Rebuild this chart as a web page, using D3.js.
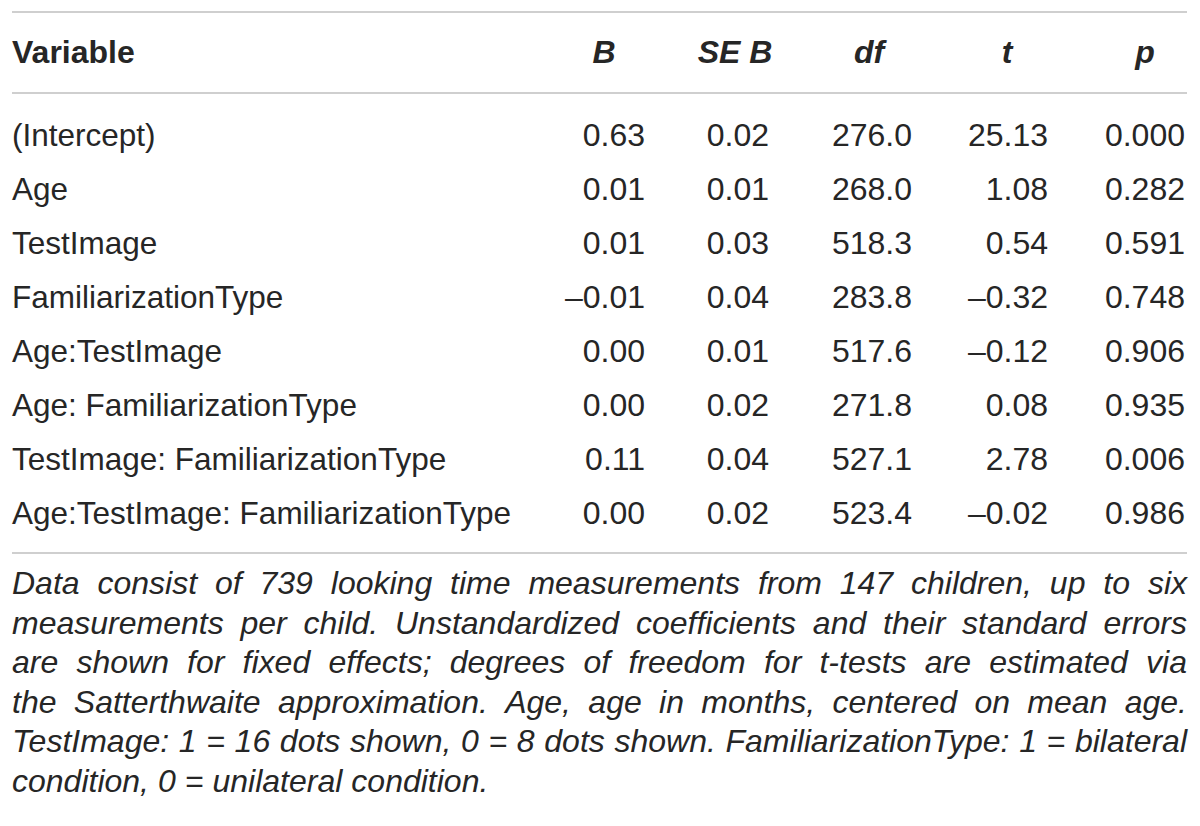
<!DOCTYPE html>
<html>
<head>
<meta charset="utf-8">
<script src="https://cdn.jsdelivr.net/npm/d3@7"></script>
<style>
  html, body { margin: 0; padding: 0; background: #fff; }
  svg text { font-family: "Liberation Sans", Arial, sans-serif; fill: #262626; }
</style>
</head>
<body>
<svg id="chart" width="1200" height="826"></svg>
<script>
// table contents
var headers = ['B', 'SE B', 'df', 't', 'p'];
var variables = ['(Intercept)', 'Age', 'TestImage', 'FamiliarizationType', 'Age:TestImage',
    'Age: FamiliarizationType', 'TestImage: FamiliarizationType', 'Age:TestImage: FamiliarizationType'];
var B    = ['0.63', '0.01', '0.01', '\u20130.01', '0.00', '0.00', '0.11', '0.00'];
var SEB  = ['0.02', '0.01', '0.03', '0.04', '0.01', '0.02', '0.04', '0.02'];
var df   = ['276.0', '268.0', '518.3', '283.8', '517.6', '271.8', '527.1', '523.4'];
var tval = ['25.13', '1.08', '0.54', '\u20130.32', '\u20130.12', '0.08', '2.78', '\u20130.02'];
var pval = ['0.000', '0.282', '0.591', '0.748', '0.906', '0.935', '0.006', '0.986'];
var footnote = [
    'Data consist of 739 looking time measurements from 147 children, up to six',
    'measurements per child. Unstandardized coefficients and their standard errors',
    'are shown for fixed effects; degrees of freedom for t-tests are estimated via',
    'the Satterthwaite approximation. Age, age in months, centered on mean age.',
    'TestImage: 1 = 16 dots shown, 0 = 8 dots shown. FamiliarizationType: 1 = bilateral',
    'condition, 0 = unilateral condition.'
];

var columns = [B, SEB, df, tval, pval];

// layout
var left = 12, right = 1187;
var colRight = [645, 769, 912, 1048, 1185];
var headCenter = [604, 735, 869, 1007, 1145];

var svg = d3.select('#chart');

var y = d3.scalePoint()
    .domain(d3.range(variables.length))
    .range([146, 524]);

var rules = [12, 93, 553];
svg.selectAll('line.rule')
    .data(rules)
    .enter()
    .append('line')
    .attr('class', 'rule')
    .attr('x1', left)
    .attr('x2', right)
    .attr('y1', function(d) { return d; })
    .attr('y2', function(d) { return d; })
    .style('stroke', '#cfcfcf')
    .style('stroke-width', 2);

// header
svg.append('text')
    .attr('x', left)
    .attr('y', 63)
    .style('font-size', '32px')
    .style('font-weight', 'bold')
    .text('Variable');

svg.selectAll('text.head')
    .data(headers)
    .enter()
    .append('text')
    .attr('class', 'head')
    .attr('x', function(d, i) { return headCenter[i]; })
    .attr('y', 63)
    .attr('text-anchor', 'middle')
    .style('font-size', '32px')
    .style('font-weight', 'bold')
    .style('font-style', 'italic')
    .text(function(d) { return d; });

// body
svg.selectAll('text.var')
    .data(variables)
    .enter()
    .append('text')
    .attr('class', 'var')
    .attr('x', left)
    .attr('y', function(d, i) { return y(i); })
    .style('font-size', '31.5px')
    .text(function(d) { return d; });

columns.forEach(function(col, c) {
    svg.selectAll('text.c' + c)
        .data(col)
        .enter()
        .append('text')
        .attr('class', 'c' + c)
        .attr('x', colRight[c])
        .attr('y', function(d, i) { return y(i); })
        .attr('text-anchor', 'end')
        .style('font-size', '32px')
        .text(function(d) { return d; });
});

// footnote, justified by hand
var fy = d3.scalePoint()
    .domain(d3.range(footnote.length))
    .range([594, 792]);

footnote.forEach(function(line, li) {
    var words = line.split(' ');
    var g = svg.append('g');
    var nodes = g.selectAll('text')
        .data(words)
        .enter()
        .append('text')
        .attr('y', fy(li))
        .style('font-size', '32px')
        .style('font-style', 'italic')
        .text(function(d) { return d; });
    var widths = [];
    nodes.each(function() { widths.push(this.getComputedTextLength()); });
    var total = d3.sum(widths);
    var gap = (li < footnote.length - 1 && words.length > 1)
        ? (right - left - total) / (words.length - 1)
        : 9;
    var x = left;
    nodes.attr('x', function(d, i) {
        var pos = x;
        x += widths[i] + gap;
        return pos;
    });
});
</script>
</body>
</html>
